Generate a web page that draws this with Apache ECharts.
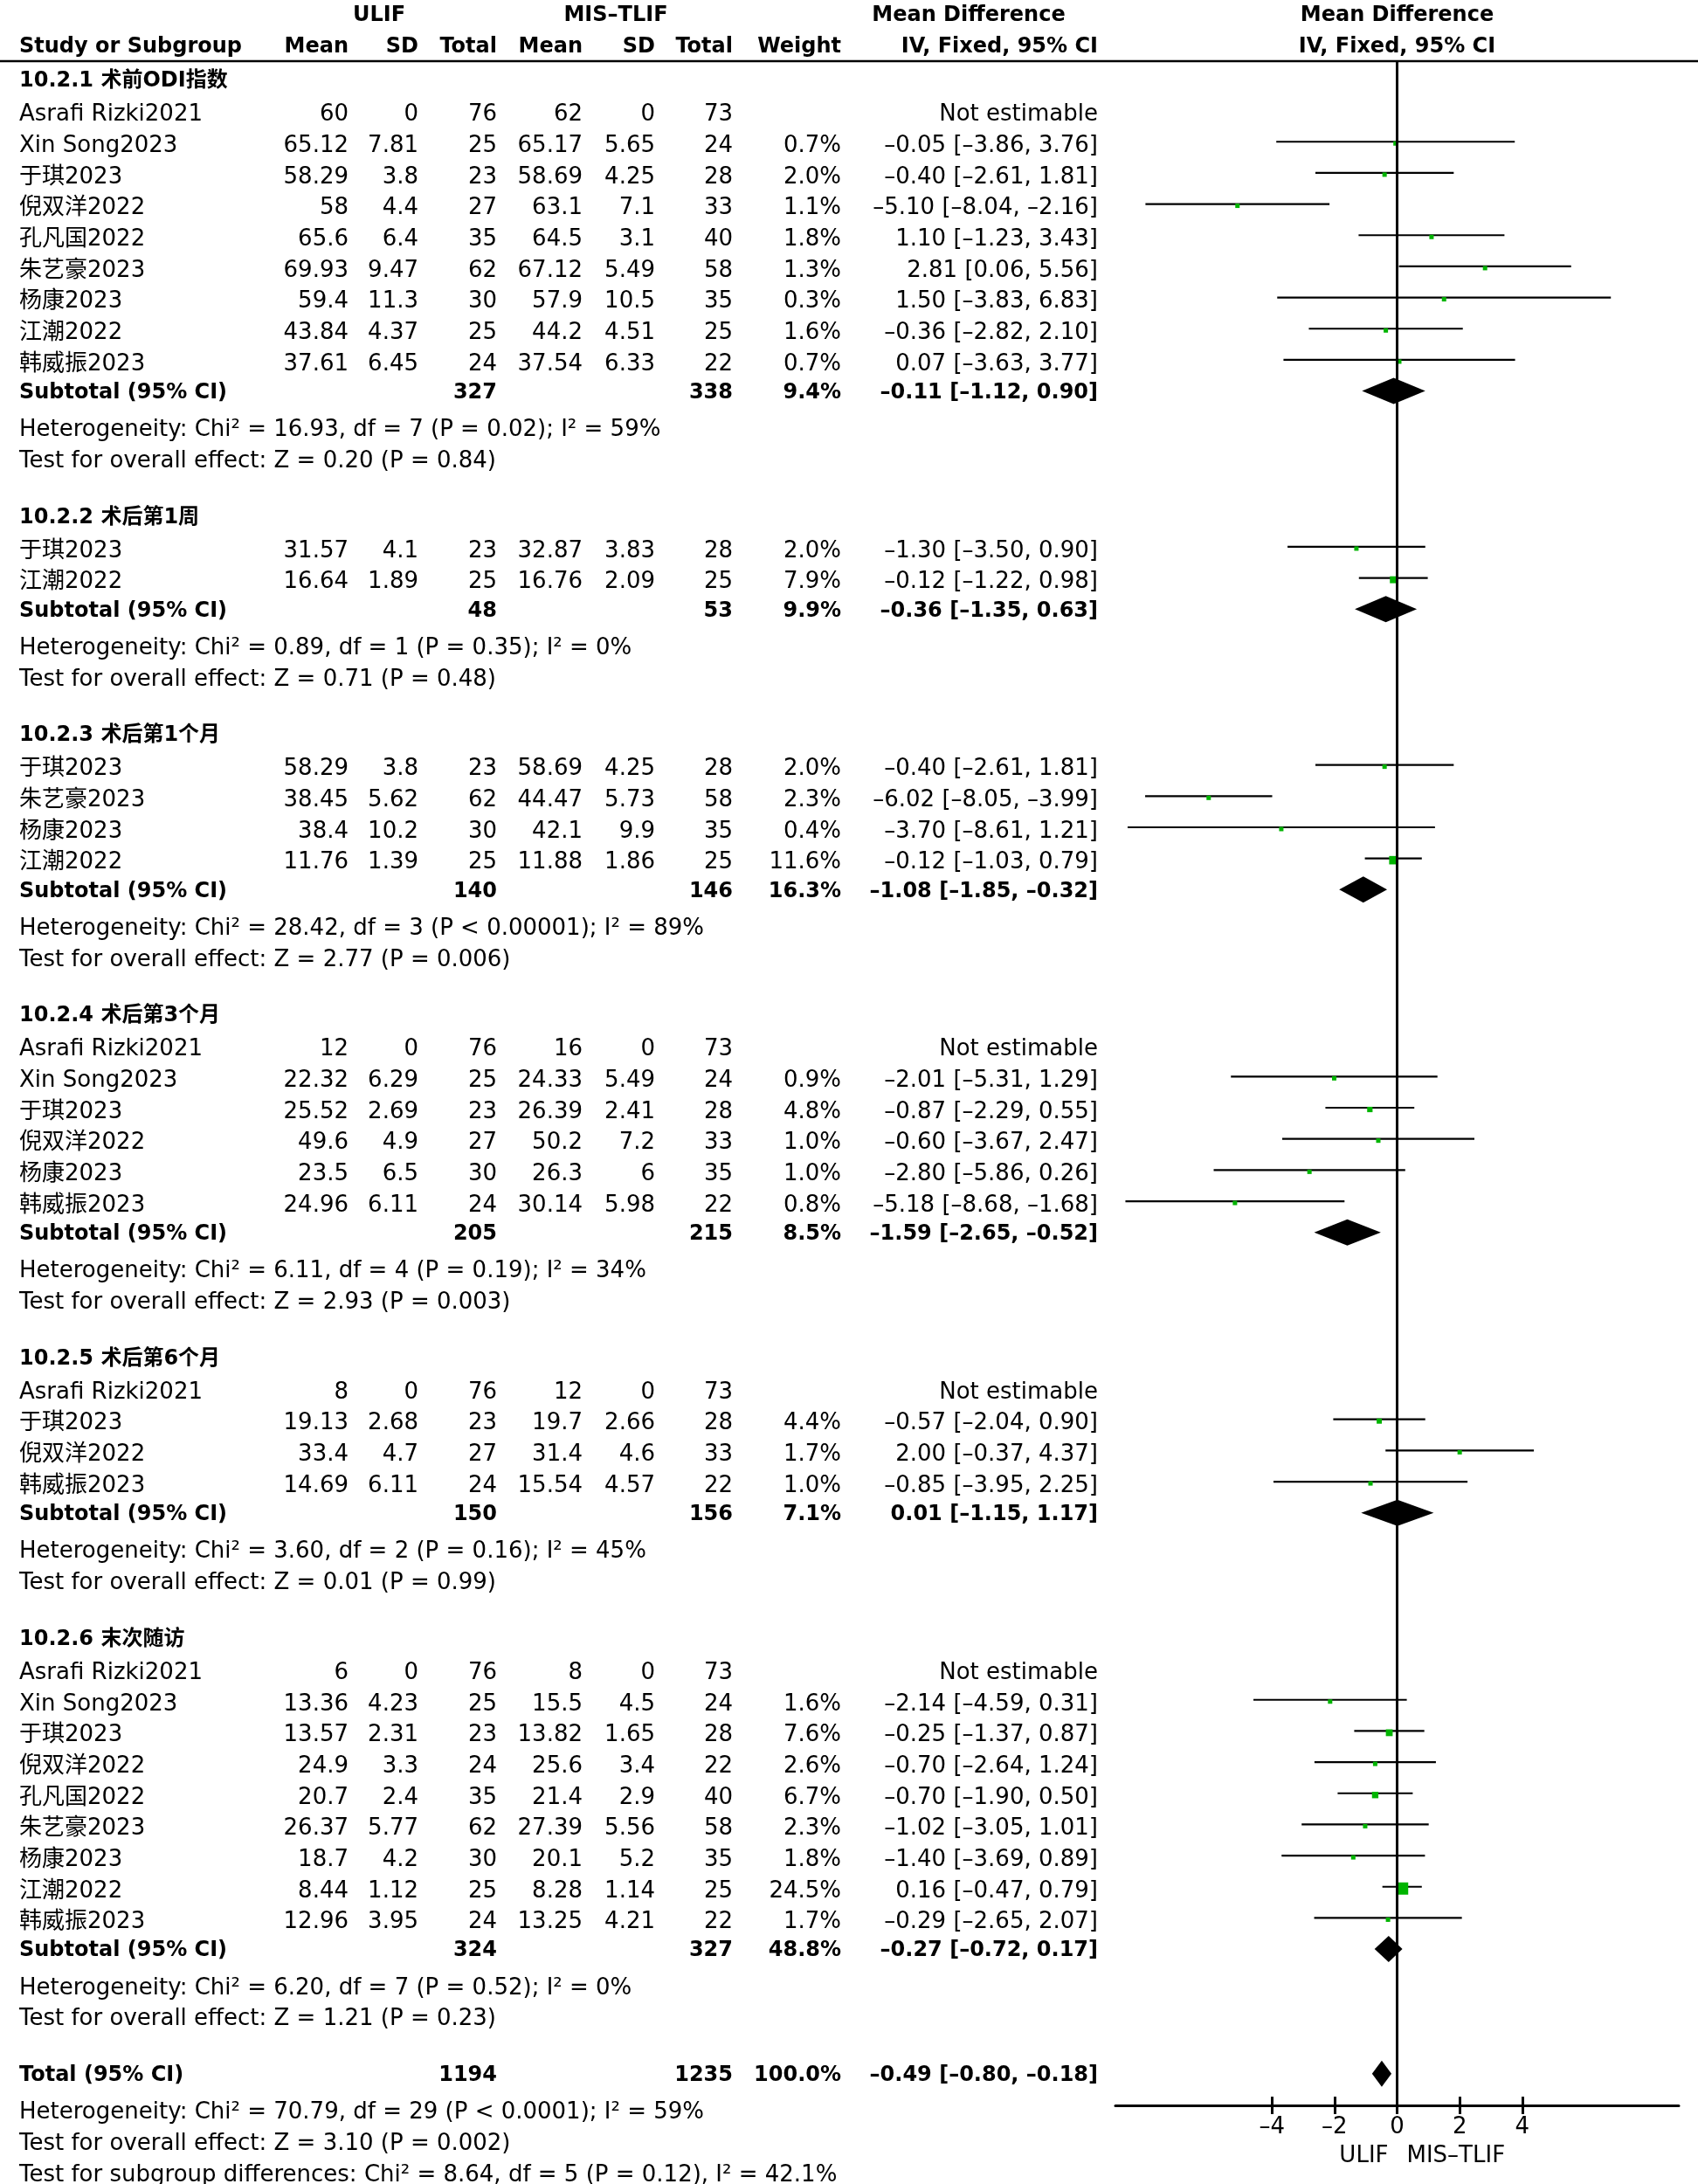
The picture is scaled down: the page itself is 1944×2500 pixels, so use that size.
<!DOCTYPE html>
<html><head><meta charset="utf-8">
<script src="https://cdn.jsdelivr.net/npm/echarts@6/dist/echarts.min.js"></script>
<style>html,body{margin:0;padding:0;background:#fff}#c{width:1944px;height:2500px}</style>
</head><body><div id="c"></div>
<script>
// ---------------- DATA ----------------
const groupTitles = ['10.2.1 术前ODI指数','10.2.2 术后第1周','10.2.3 术后第1个月','10.2.4 术后第3个月','10.2.5 术后第6个月','10.2.6 末次随访'];
const studyGroup = [0,0,0,0,0,0,0,0,0, 1,1, 2,2,2,2, 3,3,3,3,3,3, 4,4,4,4, 5,5,5,5,5,5,5,5,5];
const studyNames = ['Asrafi Rizki2021','Xin Song2023','于琪2023','倪双洋2022','孔凡国2022','朱艺豪2023','杨康2023','江潮2022','韩威振2023',
  '于琪2023','江潮2022',
  '于琪2023','朱艺豪2023','杨康2023','江潮2022',
  'Asrafi Rizki2021','Xin Song2023','于琪2023','倪双洋2022','杨康2023','韩威振2023',
  'Asrafi Rizki2021','于琪2023','倪双洋2022','韩威振2023',
  'Asrafi Rizki2021','Xin Song2023','于琪2023','倪双洋2022','孔凡国2022','朱艺豪2023','杨康2023','江潮2022','韩威振2023'];
const ulifMean = [60,65.12,58.29,58,65.6,69.93,59.4,43.84,37.61, 31.57,16.64, 58.29,38.45,38.4,11.76, 12,22.32,25.52,49.6,23.5,24.96, 8,19.13,33.4,14.69, 6,13.36,13.57,24.9,20.7,26.37,18.7,8.44,12.96];
const ulifSD   = [0,7.81,3.8,4.4,6.4,9.47,11.3,4.37,6.45, 4.1,1.89, 3.8,5.62,10.2,1.39, 0,6.29,2.69,4.9,6.5,6.11, 0,2.68,4.7,6.11, 0,4.23,2.31,3.3,2.4,5.77,4.2,1.12,3.95];
const ulifN    = [76,25,23,27,35,62,30,25,24, 23,25, 23,62,30,25, 76,25,23,27,30,24, 76,23,27,24, 76,25,23,24,35,62,30,25,24];
const misMean  = [62,65.17,58.69,63.1,64.5,67.12,57.9,44.2,37.54, 32.87,16.76, 58.69,44.47,42.1,11.88, 16,24.33,26.39,50.2,26.3,30.14, 12,19.7,31.4,15.54, 8,15.5,13.82,25.6,21.4,27.39,20.1,8.28,13.25];
const misSD    = [0,5.65,4.25,7.1,3.1,5.49,10.5,4.51,6.33, 3.83,2.09, 4.25,5.73,9.9,1.86, 0,5.49,2.41,7.2,6,5.98, 0,2.66,4.6,4.57, 0,4.5,1.65,3.4,2.9,5.56,5.2,1.14,4.21];
const misN     = [73,24,28,33,40,58,35,25,22, 28,25, 28,58,35,25, 73,24,28,33,35,22, 73,28,33,22, 73,24,28,22,40,58,35,25,22];
const weights  = [null,0.7,2.0,1.1,1.8,1.3,0.3,1.6,0.7, 2.0,7.9, 2.0,2.3,0.4,11.6, null,0.9,4.8,1.0,1.0,0.8, null,4.4,1.7,1.0, null,1.6,7.6,2.6,6.7,2.3,1.8,24.5,1.7];
const meanDiff = [null,-0.05,-0.40,-5.10,1.10,2.81,1.50,-0.36,0.07, -1.30,-0.12, -0.40,-6.02,-3.70,-0.12, null,-2.01,-0.87,-0.60,-2.80,-5.18, null,-0.57,2.00,-0.85, null,-2.14,-0.25,-0.70,-0.70,-1.02,-1.40,0.16,-0.29];
const ciLow    = [null,-3.86,-2.61,-8.04,-1.23,0.06,-3.83,-2.82,-3.63, -3.50,-1.22, -2.61,-8.05,-8.61,-1.03, null,-5.31,-2.29,-3.67,-5.86,-8.68, null,-2.04,-0.37,-3.95, null,-4.59,-1.37,-2.64,-1.90,-3.05,-3.69,-0.47,-2.65];
const ciHigh   = [null,3.76,1.81,-2.16,3.43,5.56,6.83,2.10,3.77, 0.90,0.98, 1.81,-3.99,1.21,0.79, null,1.29,0.55,2.47,0.26,-1.68, null,0.90,4.37,2.25, null,0.31,0.87,1.24,0.50,1.01,0.89,0.79,2.07];

const subN1     = [327,48,140,205,150,324];
const subN2     = [338,53,146,215,156,327];
const subWeight = [9.4,9.9,16.3,8.5,7.1,48.8];
const subMD     = [-0.11,-0.36,-1.08,-1.59,0.01,-0.27];
const subLow    = [-1.12,-1.35,-1.85,-2.65,-1.15,-0.72];
const subHigh   = [0.90,0.63,-0.32,-0.52,1.17,0.17];
const hetChi    = ['16.93','0.89','28.42','6.11','3.60','6.20'];
const hetDf     = [7,1,3,4,2,7];
const hetP      = ['= 0.02','= 0.35','< 0.00001','= 0.19','= 0.16','= 0.52'];
const hetI2     = ['59%','0%','89%','34%','45%','0%'];
const effZ      = ['0.20','0.71','2.77','2.93','0.01','1.21'];
const effP      = ['0.84','0.48','0.006','0.003','0.99','0.23'];

const totalN1 = 1194, totalN2 = 1235, totalWeight = 100.0;
const totalMD = -0.49, totalLow = -0.80, totalHigh = -0.18;
const totalHet = 'Heterogeneity: Chi² = 70.79, df = 29 (P < 0.0001); I² = 59%';
const totalEffect = 'Test for overall effect: Z = 3.10 (P = 0.002)';
const subgroupTest = 'Test for subgroup differences: Chi² = 8.64, df = 5 (P = 0.12), I² = 42.1%';

const xTicks = [-4,-2,0,2,4];
const leftLabel = 'ULIF', rightLabel = 'MIS–TLIF';

// ---------------- LAYOUT ----------------
const FONT = '"DejaVu Sans","Noto Sans CJK SC",sans-serif';
const REG = 26, BOLD = 24;
const TEXT_DY = 5, BOLD_DY = 2;
const COL = {name:22, m1:399, sd1:479, n1:569, m2:667, sd2:750, n2:839, w:963, md:1257, mdHead:1109, ulifHead:434, misHead:705};
const NOTE_OFF = 0.12;
const GRID_TOP = 70, GRID_H = 2340;

const dash = s => s.replace(/-/g, '–');
const f2 = v => dash(v.toFixed(2));
const ci = (m, l, h) => f2(m) + ' [' + f2(l) + ', ' + f2(h) + ']';

const rows = [];
rows.push({kind:'head1', row:-2.12});
rows.push({kind:'head2', row:-1.1});
let r = 0;
const studyRow = [], subRow = [];
for (let g = 0; g < groupTitles.length; g++) {
  rows.push({kind:'group', row:r, g}); r++;
  for (let i = 0; i < studyNames.length; i++) {
    if (studyGroup[i] !== g) continue;
    studyRow[i] = r;
    rows.push({kind:'study', row:r, i}); r++;
  }
  subRow[g] = r;
  rows.push({kind:'sub', row:r, g}); r++;
  rows.push({kind:'note', row:r + NOTE_OFF, text:'Heterogeneity: Chi² = ' + hetChi[g] + ', df = ' + hetDf[g] + ' (P ' + hetP[g] + '); I² = ' + hetI2[g]}); r++;
  rows.push({kind:'note', row:r + NOTE_OFF, text:'Test for overall effect: Z = ' + effZ[g] + ' (P = ' + effP[g] + ')'}); r++;
  r++;
}
const totalRow = r;
rows.push({kind:'total', row:r}); r++;
rows.push({kind:'note', row:r + NOTE_OFF, text:totalHet}); r++;
rows.push({kind:'note', row:r + NOTE_OFF, text:totalEffect}); r++;
rows.push({kind:'note', row:r + NOTE_OFF, text:subgroupTest}); r++;
const favRow = 66.5;

function T(text, x, y, align, bold) {
  return {type:'text', silent:true, style:{text:String(text), x, y:y + (bold ? BOLD_DY : TEXT_DY), align, verticalAlign:'middle',
    font:(bold ? 'bold ' + BOLD : REG) + 'px ' + FONT, fill:'#000'}};
}

const tableData = rows.map((o, k) => [0, o.row, k]);
const lineData = [], squareData = [];
studyNames.forEach((n, i) => {
  if (meanDiff[i] === null) return;
  lineData.push([ciLow[i], ciHigh[i], studyRow[i]]);
  squareData.push([meanDiff[i], studyRow[i], weights[i]]);
});
const diamondData = subMD.map((m, g) => [subLow[g], m, subHigh[g], subRow[g]]);
diamondData.push([totalLow, totalMD, totalHigh, totalRow]);

const chart = echarts.init(document.getElementById('c'), null, {renderer:'canvas'});
const axisCommon = {type:'value', min:-9, max:9, gridIndex:0, splitLine:{show:false}};
chart.setOption({
  animation:false,
  backgroundColor:'#fff',
  grid:{left:1277, width:645, top:GRID_TOP, height:GRID_H, containLabel:false},
  xAxis:[
    Object.assign({}, axisCommon, {position:'bottom',
      axisLine:{show:true, onZero:false, lineStyle:{color:'#000', width:3}},
      axisTick:{show:true, inside:false, length:10, customValues:xTicks, lineStyle:{color:'#000', width:3}},
      axisLabel:{show:true, customValues:xTicks, margin:12, color:'#000', fontSize:REG, fontFamily:FONT,
        formatter:v => dash(String(v))}}),
    Object.assign({}, axisCommon, {position:'top', offset:-GRID_H,
      axisLine:{show:false},
      axisTick:{show:true, inside:false, length:10, customValues:xTicks, lineStyle:{color:'#000', width:3}},
      axisLabel:{show:false}})
  ],
  yAxis:{type:'value', inverse:true, min:-0.586, max:65.015, show:false},
  series:[
    {type:'custom', name:'table', clip:false, silent:true, data:tableData,
      renderItem:(params, api) => {
        const o = rows[api.value(2)];
        const y = api.coord([0, api.value(1)])[1];
        const c = [];
        if (o.kind === 'head1') {
          c.push(T('ULIF', COL.ulifHead, y, 'center', true));
          c.push(T('MIS–TLIF', COL.misHead, y, 'center', true));
          c.push(T('Mean Difference', COL.mdHead, y, 'center', true));
          c.push(T('Mean Difference', api.coord([0, 0])[0], y, 'center', true));
        } else if (o.kind === 'head2') {
          c.push(T('Study or Subgroup', COL.name, y, 'left', true));
          c.push(T('Mean', COL.m1, y, 'right', true));
          c.push(T('SD', COL.sd1, y, 'right', true));
          c.push(T('Total', COL.n1, y, 'right', true));
          c.push(T('Mean', COL.m2, y, 'right', true));
          c.push(T('SD', COL.sd2, y, 'right', true));
          c.push(T('Total', COL.n2, y, 'right', true));
          c.push(T('Weight', COL.w, y, 'right', true));
          c.push(T('IV, Fixed, 95% CI', COL.md, y, 'right', true));
          c.push(T('IV, Fixed, 95% CI', api.coord([0, 0])[0], y, 'center', true));
          const top = params.coordSys.y;
          c.push({type:'line', silent:true, shape:{x1:0, y1:top, x2:1944, y2:top}, style:{stroke:'#000', lineWidth:2.5}});
        } else if (o.kind === 'group') {
          c.push(T(groupTitles[o.g], COL.name, y, 'left', true));
        } else if (o.kind === 'study') {
          const i = o.i;
          c.push(T(studyNames[i], COL.name, y, 'left', false));
          c.push(T(ulifMean[i], COL.m1, y, 'right', false));
          c.push(T(ulifSD[i], COL.sd1, y, 'right', false));
          c.push(T(ulifN[i], COL.n1, y, 'right', false));
          c.push(T(misMean[i], COL.m2, y, 'right', false));
          c.push(T(misSD[i], COL.sd2, y, 'right', false));
          c.push(T(misN[i], COL.n2, y, 'right', false));
          if (weights[i] === null) {
            c.push(T('Not estimable', COL.md, y, 'right', false));
          } else {
            c.push(T(weights[i].toFixed(1) + '%', COL.w, y, 'right', false));
            c.push(T(ci(meanDiff[i], ciLow[i], ciHigh[i]), COL.md, y, 'right', false));
          }
        } else if (o.kind === 'sub') {
          const g = o.g;
          c.push(T('Subtotal (95% CI)', COL.name, y, 'left', true));
          c.push(T(subN1[g], COL.n1, y, 'right', true));
          c.push(T(subN2[g], COL.n2, y, 'right', true));
          c.push(T(subWeight[g].toFixed(1) + '%', COL.w, y, 'right', true));
          c.push(T(ci(subMD[g], subLow[g], subHigh[g]), COL.md, y, 'right', true));
        } else if (o.kind === 'total') {
          c.push(T('Total (95% CI)', COL.name, y, 'left', true));
          c.push(T(totalN1, COL.n1, y, 'right', true));
          c.push(T(totalN2, COL.n2, y, 'right', true));
          c.push(T(totalWeight.toFixed(1) + '%', COL.w, y, 'right', true));
          c.push(T(ci(totalMD, totalLow, totalHigh), COL.md, y, 'right', true));
          const fy = api.coord([0, favRow])[1];
          const zx = api.coord([0, 0])[0];
          c.push(T(leftLabel, zx - 10, fy, 'right', false));
          c.push(T(rightLabel, zx + 11, fy, 'left', false));
        } else if (o.kind === 'note') {
          c.push(T(o.text, COL.name, y, 'left', false));
        }
        return {type:'group', children:c};
      }},
    {type:'custom', name:'ci', clip:false, silent:true, data:lineData,
      renderItem:(params, api) => {
        const a = api.coord([api.value(0), api.value(2)]);
        const b = api.coord([api.value(1), api.value(2)]);
        return {type:'line', shape:{x1:a[0], y1:a[1], x2:b[0], y2:b[1]}, style:{stroke:'#000', lineWidth:2.2}};
      },
      markLine:{silent:true, symbol:['none','none'], label:{show:false},
        lineStyle:{color:'#000', width:3, type:'solid'}, data:[{xAxis:0}]}},
    {type:'custom', name:'squares', clip:false, silent:true, data:squareData,
      renderItem:(params, api) => {
        const p = api.coord([api.value(0), api.value(1)]);
        const s = Math.max(5, 14 * Math.sqrt(api.value(2) / 24.5));
        return {type:'rect', shape:{x:p[0] - s / 2, y:p[1] - s / 2 + 2, width:s, height:s}, style:{fill:'#00b400'}};
      }},
    {type:'custom', name:'diamonds', clip:false, silent:true, data:diamondData,
      renderItem:(params, api) => {
        const row = api.value(3);
        const l = api.coord([api.value(0), row]);
        const m = api.coord([api.value(1), row]);
        const h = api.coord([api.value(2), row]);
        const hh = 15;
        return {type:'polygon', shape:{points:[[l[0], l[1]], [m[0], m[1] - hh], [h[0], h[1]], [m[0], m[1] + hh]]}, style:{fill:'#000'}};
      }}
  ]
});
</script>
</body></html>
